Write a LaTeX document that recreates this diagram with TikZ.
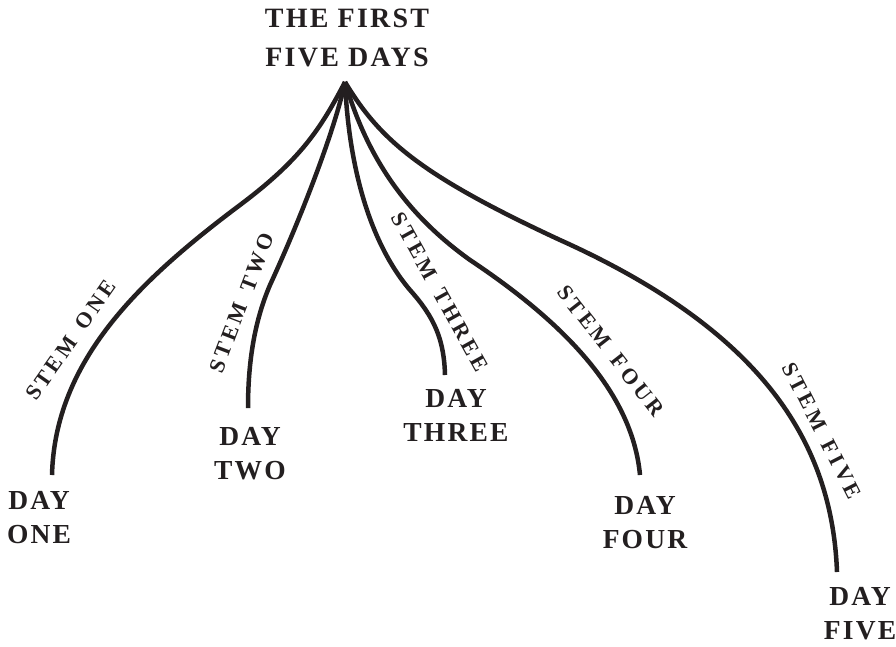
\documentclass[tikz,border=0pt]{standalone}
\usepackage{fontspec}
\setmainfont{Liberation Serif}[LetterSpace=8]
\newfontfamily\stemfont{Liberation Serif}[LetterSpace=16, WordSpace=1.5]
\definecolor{inkblack}{RGB}{35,31,32}

\begin{document}
\begin{tikzpicture}[x=1pt, y=-1pt,
  stem/.style={line width=4.5pt, draw=inkblack},
  daylabel/.style={font=\fontsize{27.5}{34}\selectfont\bfseries, text=inkblack, align=center, inner sep=0pt},
  stemlabel/.style={font=\stemfont\fontsize{22}{24}\selectfont\bfseries, text=inkblack, inner sep=0pt}]
  \useasboundingbox (0,0) rectangle (896,646);

  % Title and stem ends
  \node[daylabel, font=\fontsize{28}{39}\selectfont\bfseries] (title) at (347,38) {THE FIRST\\FIVE DAYS};
  \coordinate (apex) at (345,82);
  \coordinate (end1) at (52,475);
  \coordinate (end2) at (248,408);
  \coordinate (end3) at (445,375);
  \coordinate (end4) at (640,475);
  \coordinate (end5) at (837,572);

  % Days
  \node[daylabel] (day1) at (39,518) {DAY\\ONE};
  \node[daylabel] (day2) at (250,454) {DAY\\TWO};
  \node[daylabel] (day3) at (456,415) {DAY\\THREE};
  \node[daylabel] (day4) at (645,523) {DAY\\FOUR};
  \node[daylabel] (day5) at (860,614) {DAY\\FIVE};

  % Stems
  \draw[stem] (apex) .. controls (320,130) and (300,160) .. (240,205) .. controls (140,280) and (55,360) .. (end1);
  \draw[stem] (apex) .. controls (335,130) and (300,220) .. (270,285) .. controls (255,320) and (248,360) .. (end2);
  \draw[stem] (apex) .. controls (350,190) and (380,255) .. (410,290) .. controls (435,318) and (444,340) .. (end3);
  \draw[stem] (apex) .. controls (365,150) and (400,210) .. (470,260) .. controls (560,320) and (632,390) .. (end4);
  \draw[stem] (apex) .. controls (380,140) and (420,175) .. (560,240) .. controls (760,330) and (832,440) .. (end5);

  % Stem labels
  \node[stemlabel, rotate=55] (stem1) at (71,340) {STEM ONE};
  \node[stemlabel, rotate=69] (stem2) at (242,303) {STEM TWO};
  \node[stemlabel, rotate=-61] (stem3) at (440,292) {STEM THREE};
  \node[stemlabel, rotate=-52] (stem4) at (611,351) {STEM FOUR};
  \node[stemlabel, rotate=-63] (stem5) at (822,431) {STEM FIVE};
\end{tikzpicture}
\end{document}
